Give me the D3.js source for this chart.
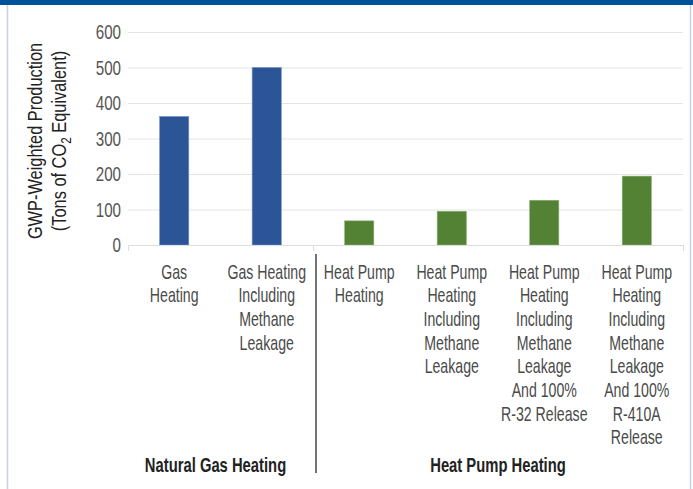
<!DOCTYPE html>
<html>
<head>
<meta charset="utf-8">
<script src="https://cdn.jsdelivr.net/npm/d3@7"></script>
<style>
body { margin: 0; background: #fff; }
svg text { font-family: "Liberation Sans", Arial, sans-serif; }
</style>
</head>
<body>
<div id="container"></div>
<script>
var categories = [
    ["Gas", "Heating"],
    ["Gas Heating", "Including", "Methane", "Leakage"],
    ["Heat Pump", "Heating"],
    ["Heat Pump", "Heating", "Including", "Methane", "Leakage"],
    ["Heat Pump", "Heating", "Including", "Methane", "Leakage", "And 100%", "R-32 Release"],
    ["Heat Pump", "Heating", "Including", "Methane", "Leakage", "And 100%", "R-410A", "Release"]
];
var values = [362, 500, 68, 95, 126, 194];
var groupOf = [0, 0, 1, 1, 1, 1];
var groups = ["Natural Gas Heating", "Heat Pump Heating"];
var groupColors = ["#2b5597", "#548235"];
var yTicks = [0, 100, 200, 300, 400, 500, 600];

var W = 693, H = 489;
var squeeze = 0.69; // condensed look
var svg = d3.select("#container").append("svg").attr("width", W).attr("height", H);

// frame
svg.append("rect").attr("x", 0).attr("y", 0).attr("width", W).attr("height", 5).attr("fill", "#00529b");
svg.append("line").attr("x1", 7.5).attr("x2", 7.5).attr("y1", 5).attr("y2", H).attr("stroke", "#c9cfe9").attr("stroke-width", 1.5);
svg.append("line").attr("x1", 690.5).attr("x2", 690.5).attr("y1", 5).attr("y2", H).attr("stroke", "#c9cfe9").attr("stroke-width", 1.5);

var x0 = 128, x1 = 683, yBase = 245, yTop = 32;
var x = d3.scaleBand().domain(d3.range(values.length)).range([x0, x1]).paddingInner(0.685).paddingOuter(0.342);
var y = d3.scaleLinear().domain([0, 600]).range([yBase, yTop]);

// gridlines
svg.append("g").selectAll("line").data(yTicks.filter(function (d) { return d > 0; })).enter().append("line")
    .attr("x1", x0).attr("x2", x1)
    .attr("y1", function (d) { return y(d) + 0.5; }).attr("y2", function (d) { return y(d) + 0.5; })
    .attr("stroke", "#e4e4e4").attr("stroke-width", 1);

// y tick labels
svg.append("g").selectAll("g").data(yTicks).enter().append("g")
    .attr("transform", function (d) { return "translate(121," + y(d) + ") scale(0.74,1)"; })
    .append("text")
    .attr("dy", "0.36em")
    .attr("text-anchor", "end").attr("font-size", 20.5).attr("fill", "#555")
    .text(function (d) { return d; });

// bars
svg.append("g").selectAll("rect").data(values).enter().append("rect")
    .attr("x", function (d, i) { return x(i); })
    .attr("width", x.bandwidth())
    .attr("y", function (d) { return y(d); })
    .attr("height", function (d) { return yBase - y(d); })
    .attr("fill", function (d, i) { return groupColors[groupOf[i]]; })
    .attr("stroke", function (d, i) { return i < 2 ? "#6f8fc4" : "#8cab74"; })
    .attr("stroke-width", 0.6);

// baseline
svg.append("line").attr("x1", x0).attr("x2", x1).attr("y1", yBase + 0.5).attr("y2", yBase + 0.5).attr("stroke", "#ddd");
var sepX = (x(1) + x.bandwidth() + x(2)) / 2;
[x0, sepX, x1].forEach(function (px) {
    svg.append("line").attr("x1", px + 0.5).attr("x2", px + 0.5).attr("y1", yBase).attr("y2", yBase + 6).attr("stroke", "#ddd");
});

// category labels
var catG = svg.append("g").selectAll("g").data(categories).enter().append("g")
    .attr("transform", function (d, i) { return "translate(" + (x(i) + x.bandwidth() / 2) + ",278.5) scale(" + squeeze + ",1)"; })
    .append("text")
    .attr("text-anchor", "middle").attr("font-size", 20.5).attr("fill", "#4a4a4a");
catG.selectAll("tspan").data(function (d) { return d; }).enter().append("tspan")
    .attr("x", 0).attr("y", function (d, j) { return j * 23.7; })
    .text(function (d) { return d; });

// group separator
svg.append("line").attr("x1", 316).attr("x2", 316).attr("y1", 254).attr("y2", 473).attr("stroke", "#444").attr("stroke-width", 1.5);

// group labels
var groupCenters = [(x0 + sepX) / 2 - 5, (sepX + x1) / 2];
svg.append("g").selectAll("g").data(groups).enter().append("g")
    .attr("transform", function (d, i) { return "translate(" + groupCenters[i] + ",472) scale(0.74,1)"; })
    .append("text")
    .attr("text-anchor", "middle").attr("font-size", 20).attr("font-weight", "bold").attr("fill", "#222")
    .text(function (d) { return d; });

// y axis title
var yt = svg.append("g").attr("transform", "translate(42,141) rotate(-90) scale(0.84,1)")
    .append("text").attr("text-anchor", "middle").attr("font-size", 19.5).attr("fill", "#222");
yt.append("tspan").attr("x", 0).attr("y", 0).text("GWP-Weighted Production");
yt.append("tspan").attr("x", 0).attr("y", 24.5).text("(Tons of CO");
yt.append("tspan").attr("font-size", 14).attr("dy", 5).text("2");
yt.append("tspan").attr("dy", -5).text(" Equivalent)");
</script>
</body>
</html>
